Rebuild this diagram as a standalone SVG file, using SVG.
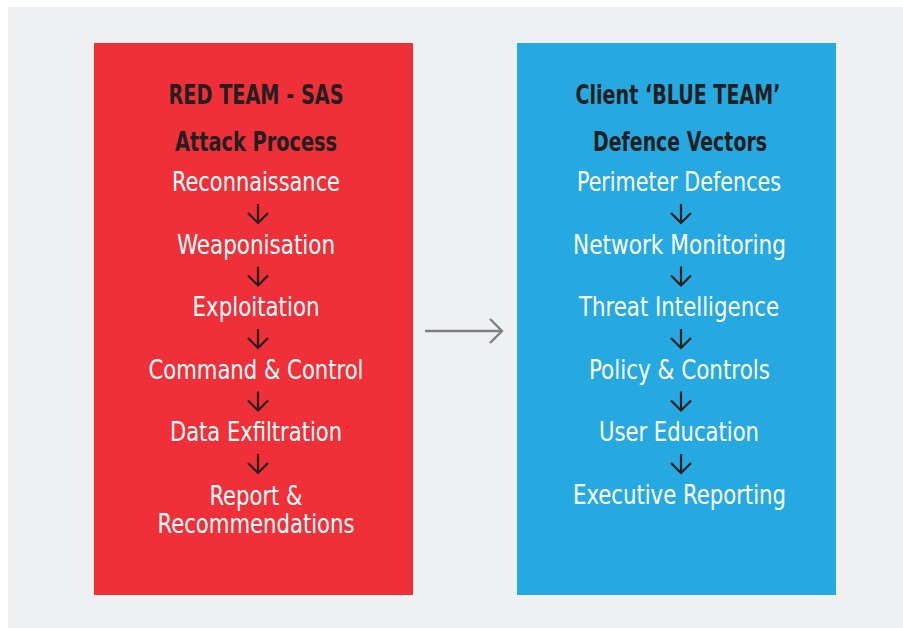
<svg xmlns="http://www.w3.org/2000/svg" width="903" height="628" viewBox="0 0 903 628">
<style>
text{font-family:"Liberation Sans Narrow","DejaVu Sans Condensed","Liberation Sans",sans-serif;text-anchor:middle;font-size:26px}
.t{font-weight:bold;fill:#231F20}
.i{fill:#FFFFFF}
.dn{fill:none;stroke:#231F20;stroke-width:2.2}
.conn{fill:none;stroke:#808080;stroke-width:2.4}
</style>
<defs>
<g id="down"><path class="dn" d="M0,-9.5 V9.5 M-10,-0.5 L0,9.5 L10,-0.5"/></g>
</defs>
<rect x="8" y="7" width="895" height="621" fill="#EFF0F2"/>
<g id="red-team">
<rect x="94" y="43" width="319" height="552" fill="#EF3038"/>
<text class="t" x="256" y="104" textLength="175" lengthAdjust="spacingAndGlyphs">RED TEAM - SAS</text>
<text class="t" x="256" y="151" textLength="162" lengthAdjust="spacingAndGlyphs">Attack Process</text>
<text class="i" x="256" y="191" textLength="168" lengthAdjust="spacingAndGlyphs">Reconnaissance</text>
<text class="i" x="256" y="254" textLength="158" lengthAdjust="spacingAndGlyphs">Weaponisation</text>
<text class="i" x="256" y="316" textLength="127" lengthAdjust="spacingAndGlyphs">Exploitation</text>
<text class="i" x="256" y="379" textLength="215" lengthAdjust="spacingAndGlyphs">Command &amp; Control</text>
<text class="i" x="256" y="441" textLength="172" lengthAdjust="spacingAndGlyphs">Data Exfiltration</text>
<text class="i" x="256" y="505" textLength="93" lengthAdjust="spacingAndGlyphs">Report &amp;</text>
<text class="i" x="256" y="533" textLength="197" lengthAdjust="spacingAndGlyphs">Recommendations</text>
</g>
<g id="blue-team">
<rect x="517" y="43" width="319" height="552" fill="#26A9E0"/>
<text class="t" x="678" y="104" textLength="205" lengthAdjust="spacingAndGlyphs">Client ‘BLUE TEAM’</text>
<text class="t" x="680" y="151" textLength="174" lengthAdjust="spacingAndGlyphs">Defence Vectors</text>
<text class="i" x="679" y="191" textLength="204" lengthAdjust="spacingAndGlyphs">Perimeter Defences</text>
<text class="i" x="679.5" y="254" textLength="213" lengthAdjust="spacingAndGlyphs">Network Monitoring</text>
<text class="i" x="679" y="316" textLength="200" lengthAdjust="spacingAndGlyphs">Threat Intelligence</text>
<text class="i" x="679.5" y="379" textLength="181" lengthAdjust="spacingAndGlyphs">Policy &amp; Controls</text>
<text class="i" x="679" y="441" textLength="160" lengthAdjust="spacingAndGlyphs">User Education</text>
<text class="i" x="679.5" y="504" textLength="213" lengthAdjust="spacingAndGlyphs">Executive Reporting</text>
</g>
<g id="connectors">
<use href="#down" x="258" y="213.5"/>
<use href="#down" x="258" y="276"/>
<use href="#down" x="258" y="338.5"/>
<use href="#down" x="258" y="401"/>
<use href="#down" x="258" y="463.5"/>
<use href="#down" x="681" y="213.5"/>
<use href="#down" x="681" y="276"/>
<use href="#down" x="681" y="338.5"/>
<use href="#down" x="681" y="401"/>
<use href="#down" x="681" y="463.5"/>
<path class="conn" d="M425,331 H502 M490,319 L502,331 L490,343"/>
</g>
</svg>
